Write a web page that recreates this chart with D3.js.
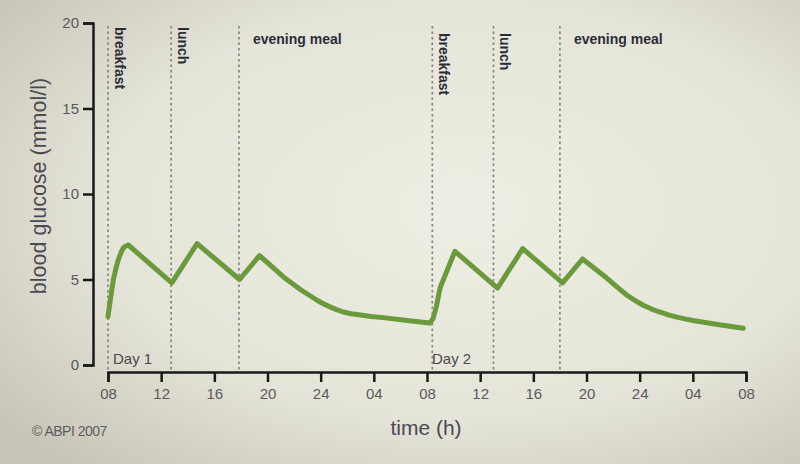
<!DOCTYPE html>
<html>
<head>
<meta charset="utf-8">
<script src="https://cdn.jsdelivr.net/npm/d3@7"></script>
<style>
html,body{margin:0;padding:0;background:#e4e2d6;}
svg{display:block;}
</style>
</head>
<body>
<svg id="chart" width="800" height="464"></svg>
<script>
// ---- data ----
const hours = [0, 0.19, 0.4, 0.58, 0.77, 0.96, 1.15, 1.32, 1.52, 4.8, 6.7, 9.9, 11.4, 13.2, 14.5, 15.2, 15.7, 16.2, 16.7, 17.2, 17.7, 18.3, 19.0, 19.8, 20.7, 22.5, 24.2, 24.45, 24.7, 25.0, 26.1, 29.3, 31.2, 34.2, 35.7, 37.5, 38.4, 39.1, 39.7, 40.3, 40.9, 41.5, 42.1, 42.8, 43.4, 44.0, 46.0, 47.8];
const glucose = [2.83, 3.9, 4.97, 5.6, 6.14, 6.55, 6.84, 6.95, 7.02, 4.8, 7.1, 5.0, 6.4, 5.15, 4.4, 4.05, 3.8, 3.58, 3.4, 3.24, 3.1, 3.0, 2.92, 2.84, 2.77, 2.6, 2.45, 2.7, 3.4, 4.55, 6.65, 4.5, 6.8, 4.8, 6.2, 5.1, 4.5, 4.05, 3.75, 3.48, 3.27, 3.1, 2.95, 2.8, 2.7, 2.6, 2.35, 2.15];
const mealNames = ["breakfast", "lunch", "evening meal", "breakfast", "lunch", "evening meal"];
const mealHours = [0, 4.75, 9.85, 24.4, 29.0, 34.0];
const xTickHours = [0, 4, 8, 12, 16, 20, 24, 28, 32, 36, 40, 44, 48];
const xTickLabels = ["08", "12", "16", "20", "24", "04", "08", "12", "16", "20", "24", "04", "08"];
const yTicks = [0, 5, 10, 15, 20];
const dayLabels = ["Day 1", "Day 2"];
const dayHours = [0, 24];

const FONT = "'Liberation Sans', Arial, Helvetica, sans-serif";
const svg = d3.select("#chart");
const W = 800, H = 464;

// background (photo-like vignette)
const defs = svg.append("defs");
const rg = defs.append("radialGradient").attr("id", "bg").attr("cx", "58%").attr("cy", "45%").attr("r", "75%");
rg.append("stop").attr("offset", "0%").attr("stop-color", "#efeee4");
rg.append("stop").attr("offset", "60%").attr("stop-color", "#e5e4d8");
rg.append("stop").attr("offset", "100%").attr("stop-color", "#c6c4b6");
svg.append("rect").attr("width", W).attr("height", H).attr("fill", "url(#bg)");

const x = d3.scaleLinear().domain([0, 48]).range([108, 746]);
const y = d3.scaleLinear().domain([0, 20]).range([365, 23]);
const xAxisY = 372;

// meal dashed lines
svg.append("g").selectAll("line").data(mealHours).join("line")
  .attr("x1", d => x(d)).attr("x2", d => x(d))
  .attr("y1", 26).attr("y2", xAxisY)
  .attr("stroke", "#858585").attr("stroke-width", 1.7)
  .attr("stroke-dasharray", "2.5,3");

// meal labels
const labels = svg.append("g").attr("font-family", FONT)
  .attr("font-size", 14).attr("font-weight", "bold").attr("fill", "#2c2c38");
mealNames.forEach((name, i) => {
  const mx = x(mealHours[i]);
  if (name === "evening meal") {
    labels.append("text").attr("x", mx + 14).attr("y", 44).text(name);
  } else {
    labels.append("text")
      .attr("transform", `translate(${mx + 7},${i < 3 ? 27 : 33}) rotate(90)`)
      .text(name);
  }
});

// day labels
svg.append("g").selectAll("text").data(dayLabels).join("text")
  .attr("x", (d, i) => x(dayHours[i]) + 5).attr("y", 364)
  .attr("font-family", FONT).attr("font-size", 15)
  .attr("fill", "#4a4a4a").text(d => d);

// curve
const pts = hours.map((h, i) => [h, glucose[i]]);
svg.append("path").datum(pts)
  .attr("fill", "none").attr("stroke", "#6b9a3c").attr("stroke-width", 5)
  .attr("stroke-linejoin", "round").attr("stroke-linecap", "round")
  .attr("d", d3.line().x(d => x(d[0])).y(d => y(d[1])));

// y axis
const yAxis = svg.append("g").attr("transform", "translate(93,0)")
  .call(d3.axisLeft(y).tickValues(yTicks).tickSize(10).tickSizeOuter(10).tickPadding(4));
yAxis.select(".domain").attr("stroke", "#1a1a1a").attr("stroke-width", 2.5);
yAxis.selectAll(".tick line").attr("stroke", "#1a1a1a").attr("stroke-width", 2.5);
yAxis.selectAll(".tick text").attr("font-family", FONT)
  .attr("font-size", 15).attr("fill", "#5a5a5a");

// x axis
const xAxis = svg.append("g").attr("transform", `translate(0,${xAxisY})`)
  .call(d3.axisBottom(x).tickValues(xTickHours).tickFormat((d, i) => xTickLabels[i])
    .tickSize(10).tickSizeOuter(10).tickPadding(6));
xAxis.select(".domain").attr("stroke", "#1a1a1a").attr("stroke-width", 2.5);
xAxis.selectAll(".tick line").attr("stroke", "#1a1a1a").attr("stroke-width", 2.5);
xAxis.selectAll(".tick text").attr("font-family", FONT)
  .attr("font-size", 15).attr("fill", "#5a5a5a");

// axis titles
svg.append("text").attr("x", 426).attr("y", 435).attr("text-anchor", "middle")
  .attr("font-family", FONT).attr("font-size", 21)
  .attr("fill", "#4a4a52").text("time (h)");
svg.append("text").attr("transform", "translate(46,186) rotate(-90)").attr("text-anchor", "middle")
  .attr("font-family", FONT).attr("font-size", 21.5)
  .attr("fill", "#4a4a52").text("blood glucose (mmol/l)");

// copyright
svg.append("text").attr("x", 32).attr("y", 436)
  .attr("font-family", FONT).attr("font-size", 14)
  .attr("fill", "#5e5e5e").attr("letter-spacing", -0.5).text("© ABPI 2007");
</script>
</body>
</html>
